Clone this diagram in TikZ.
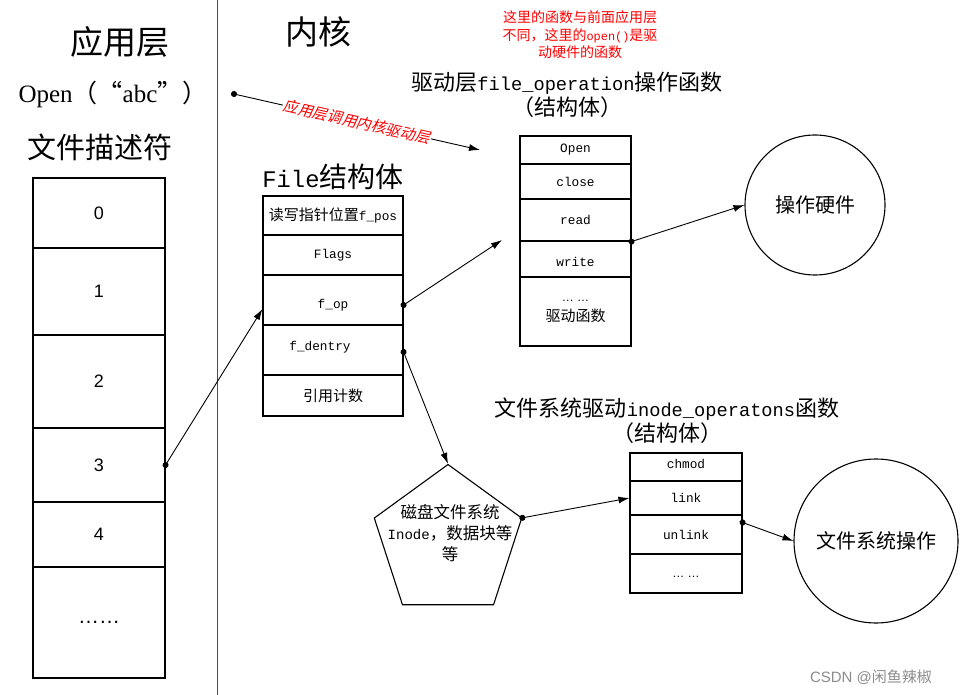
\documentclass[tikz,border=0pt]{standalone}
\usepackage{fontspec}
\setmainfont{Noto Sans CJK SC}
\newfontfamily\mono{Liberation Mono}[Scale=0.85]
\newfontfamily\lserif{Liberation Serif}
\newfontfamily\lsans{Liberation Sans}
\newfontfamily\cjkslant{Noto Sans CJK SC}[FakeSlant=0.2]
\usetikzlibrary{arrows.meta,shapes.geometric}
\newcommand\fsz[2]{\fontsize{#1}{#2}\selectfont}
\tikzset{
  box/.style={draw, line width=1.1pt, inner sep=0pt, font=\fsz{15}{18}},
  fdcell/.style={box, minimum width=132pt, font=\lsans\fsz{18}{21}},
  filecell/.style={box, minimum width=140pt},
  drvcell/.style={box, minimum width=111pt},
  inocell/.style={box, minimum width=112pt},
  celltext/.style={font=\fsz{15}{18}},
  conn/.style={-{Latex[length=11pt,width=7pt]}, line width=0.9pt},
  dotconn/.style={{Circle[length=6pt]}-{Latex[length=11pt,width=7pt]}, line width=0.9pt, shorten <=-3pt},
  bigtitle/.style={font=\fsz{33}{38}},
  subtitle/.style={font=\fsz{22}{25}, align=center},
  bubble/.style={draw, circle, line width=1.1pt, inner sep=0pt, font=\fsz{20}{24}}
}
\begin{document}
\begin{tikzpicture}[x=1pt,y=-1pt]
\useasboundingbox (0,0) rectangle (966,695);
% divider
\draw[red, line width=1pt] (217,0) -- (217,695);
% titles
\node[bigtitle] (tapp) at (120,42) {应用层};
\node[bigtitle] (tker) at (318,32) {内核};
\node[font=\fsz{25}{30}] (topen) at (113,94) {{\lserif Open}（“{\lserif abc}”）};
\node[font=\fsz{29}{34}] (tfd) at (100,147) {文件描述符};
% fd table
\node[fdcell, minimum height=70pt] (fd0) at (99,213) {0};
\node[fdcell, minimum height=87pt] (fd1) at (99,291.5) {1};
\node[fdcell, minimum height=93pt] (fd2) at (99,381.5) {2};
\node[fdcell, minimum height=74pt] (fd3) at (99,465) {3};
\node[fdcell, minimum height=65pt] (fd4) at (99,534.5) {4};
\node[fdcell, minimum height=111pt, font=\lsans\fsz{21}{24}] (fd5) at (99,622.5) {……};
% File struct
\node[font=\fsz{28}{32}] (tfile) at (333,177) {{\mono File}结构体};
\node[filecell, minimum height=39pt] (fpos) at (333,215.5) {读写指针位置{\mono f\_pos}};
\node[filecell, minimum height=40pt] (flags) at (333,255) {\mono Flags};
\node[filecell, minimum height=50pt] (fop) at (333,300) {};
\node[celltext] (fopt) at (333,305) {\mono f\_op};
\node[filecell, minimum height=50pt] (fden) at (333,350) {};
\node[celltext] (fdent) at (320,347) {\mono f\_dentry};
\node[filecell, minimum height=41pt] (fref) at (333,395.5) {引用计数};
% red note
\node[font=\fsz{14}{17.5}, text=red, align=center] (note) at (580,35) {这里的函数与前面应用层\\不同，这里的{\mono open()}是驱\\动硬件的函数};
% driver struct
\node[subtitle] (tdrv) at (567,94.5) {驱动层{\mono file\_operation}操作函数\\（结构体）};
\node[drvcell, minimum height=28pt] (dopen) at (575.5,150) {\mono Open};
\node[drvcell, minimum height=35pt] (dclose) at (575.5,181.5) {\mono close};
\node[drvcell, minimum height=42pt] (dread) at (575.5,220) {\mono read};
\node[drvcell, minimum height=36pt] (dwrite) at (575.5,259) {};
\node[celltext] (dwritet) at (575.5,262) {\mono write};
\node[drvcell, minimum height=69pt, align=center, font=\fsz{15}{20}] (ddrv) at (575.5,311.5) {{\lsans\fsz{12}{20}… …}\\驱动函数};
\node[bubble, minimum size=140pt] (hw) at (815,205) {操作硬件};
% inode struct
\node[subtitle] (tino) at (667,420.5) {文件系统驱动{\mono inode\_operatons}函数\\（结构体）};
\node[inocell, minimum height=28pt] (ichmod) at (686,467) {};
\node[celltext] (ichmodt) at (686,464) {\mono chmod};
\node[inocell, minimum height=34pt] (ilink) at (686,498) {\mono link};
\node[inocell, minimum height=39pt] (iunlink) at (686,534.5) {\mono unlink};
\node[inocell, minimum height=39pt] (idots) at (686,573.5) {};
\node[font=\lsans\fsz{12}{14}] (idotst) at (686,577) {… …};
\node[bubble, minimum size=164pt] (fsop) at (876,541) {文件系统操作};
% pentagon
\node[draw, regular polygon, regular polygon sides=5, minimum size=155pt, inner sep=0pt, line width=1.1pt] (pent) at (448,542) {};
\node[font=\fsz{16.5}{21}, align=center] (pentt) at (450,533) {磁盘文件系统\\{\mono Inode}，数据块等\\等};
% free ends
\coordinate (cs) at (234,94);
\coordinate (ce) at (480,150);
\coordinate (fopend) at (502,240);
% connectors
\draw[dotconn] (cs) -- node[sloped, fill=white, inner sep=1pt, text=red, font=\cjkslant\fsz{15}{18}] (calllbl) {应用层调用内核驱动层} (ce);
\draw[dotconn] (fd3.east) -- ([yshift=-9pt]fop.west);
\draw[dotconn] ([yshift=-5pt]fop.east) -- (fopend);
\draw[dotconn] (dread.south east) -- (hw.west);
\draw[dotconn] ([yshift=-2pt]fden.east) -- (pent.corner 1);
\draw[dotconn] (pent.corner 5) -- (ilink.west);
\draw[dotconn] ([yshift=12pt]iunlink.east) -- (fsop.west);
% watermark
\node[text=black!45, font=\fsz{15}{18}] (wm) at (871,677) {{\lsans CSDN @}闲鱼辣椒};
\end{tikzpicture}
\end{document}
